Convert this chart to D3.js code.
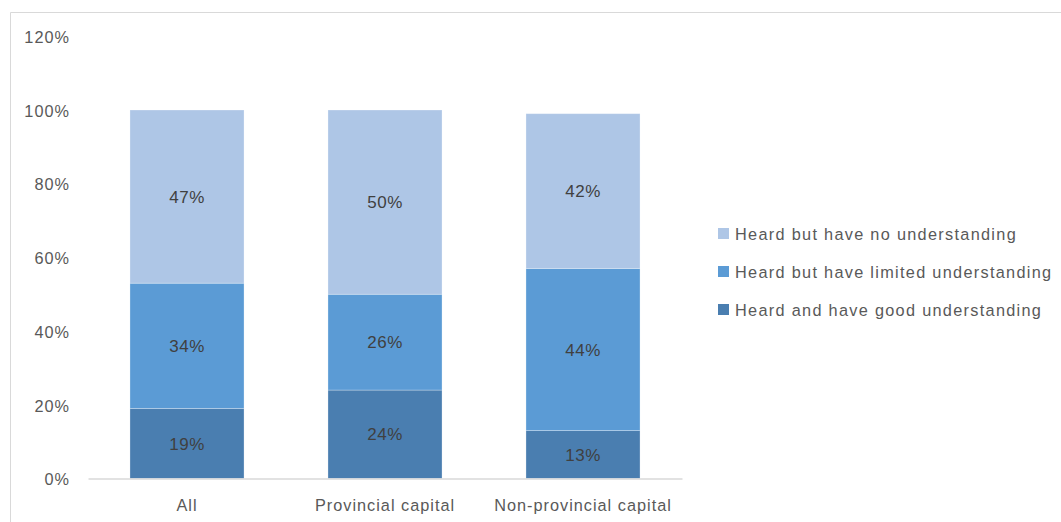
<!DOCTYPE html>
<html>
<head>
<meta charset="utf-8">
<script src="https://cdn.jsdelivr.net/npm/d3@7"></script>
<style>
  html, body { margin: 0; padding: 0; background: #fff; }
  svg { display: block; }
  text { font-family: "Liberation Sans", Arial, sans-serif; }
</style>
</head>
<body>
<svg id="chart" width="1061" height="522"></svg>
<script>
// Survey responses by location (percent of respondents)
const categories = ["All", "Provincial capital", "Non-provincial capital"];
const seriesNames = [
  "Heard and have good understanding",
  "Heard but have limited understanding",
  "Heard but have no understanding"
];
const goodUnderstanding    = [19, 24, 13];
const limitedUnderstanding = [34, 26, 44];
const noUnderstanding      = [47, 50, 42];
const yTicks = [0, 20, 40, 60, 80, 100, 120];
const seriesColors = ["#4a7eb0", "#5b9bd5", "#aec6e6"];

const rows = categories.map((c, i) => ({
  category: c,
  [seriesNames[0]]: goodUnderstanding[i],
  [seriesNames[1]]: limitedUnderstanding[i],
  [seriesNames[2]]: noUnderstanding[i]
}));

const svg = d3.select("#chart");

// chart frame
svg.append("path")
  .attr("d", "M10.5,522 V12.5 H1061")
  .attr("fill", "none")
  .attr("stroke", "#d9d9d9")
  .attr("stroke-width", 1);

const x = d3.scaleBand()
  .domain(categories)
  .range([88, 682])
  .paddingInner(0.424)
  .paddingOuter(0.212);

const y = d3.scaleLinear()
  .domain([0, 120])
  .range([478.5, 36.3]);

const stack = d3.stack().keys(seriesNames);
const stacked = stack(rows);
const color = d3.scaleOrdinal().domain(seriesNames).range(seriesColors);

// y axis labels (no line, no ticks)
const yAxis = svg.append("g")
  .attr("transform", "translate(70,0)")
  .call(d3.axisLeft(y).tickValues(yTicks).tickFormat(d => d + "%").tickSize(0).tickPadding(0));
yAxis.select(".domain").remove();
yAxis.selectAll("text")
  .attr("fill", "#595959")
  .style("font-size", "16.3px")
  .style("letter-spacing", "1px")
  .attr("dy", "0.38em");

// bars
const layers = svg.append("g").selectAll("g")
  .data(stacked)
  .join("g")
  .attr("fill", d => color(d.key));

layers.selectAll("rect")
  .data(d => d)
  .join("rect")
  .attr("x", d => x(d.data.category))
  .attr("width", x.bandwidth())
  .attr("y", d => y(d[1]))
  .attr("height", d => y(d[0]) - y(d[1]))
  .attr("stroke", "rgba(255,255,255,0.35)")
  .attr("stroke-width", 0.8);

// value labels
layers.selectAll("text")
  .data(d => d)
  .join("text")
  .attr("x", d => x(d.data.category) + x.bandwidth() / 2)
  .attr("y", d => (y(d[0]) + y(d[1])) / 2)
  .attr("dy", "0.36em")
  .attr("text-anchor", "middle")
  .attr("fill", "#404040")
  .style("font-size", "17px")
  .style("letter-spacing", "0.5px")
  .text(d => (d[1] - d[0]) + "%");

// x axis
const xAxis = svg.append("g")
  .attr("transform", `translate(0,${y(0)})`)
  .call(d3.axisBottom(x).tickSize(0).tickPadding(21));
xAxis.select(".domain").attr("stroke", "#d9d9d9").attr("stroke-width", 1.5);
xAxis.selectAll("text")
  .attr("fill", "#595959")
  .style("font-size", "16.3px")
  .style("letter-spacing", "1px");

// legend (top series first)
const legend = svg.append("g").attr("transform", "translate(718,234)");
const legendItems = legend.selectAll("g")
  .data(seriesNames.slice().reverse())
  .join("g")
  .attr("transform", (d, i) => `translate(0,${i * 38})`);
legendItems.append("rect")
  .attr("x", 0).attr("y", -6)
  .attr("width", 11).attr("height", 11)
  .attr("fill", d => color(d));
legendItems.append("text")
  .attr("x", 17)
  .attr("y", 0)
  .attr("dy", "0.36em")
  .attr("fill", "#595959")
  .style("font-size", "16.3px")
  .style("letter-spacing", "1.3px")
  .text(d => d);
</script>
</body>
</html>
